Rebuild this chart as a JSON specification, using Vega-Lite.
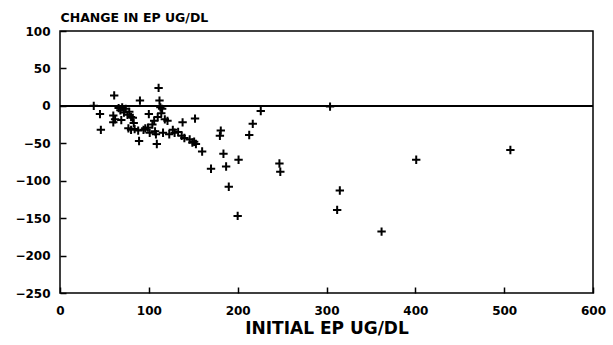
{
  "$schema": "https://vega.github.io/schema/vega-lite/v6.json",
  "width": 533,
  "height": 262,
  "autosize": {"type": "none"},
  "padding": {"left": 60, "top": 31, "right": 20, "bottom": 52},
  "background": "white",
  "config": {
    "view": {"stroke": "black", "strokeWidth": 1.5}
  },
  "data": {
    "values": [
      {"x": 38, "y": 0}, {"x": 45, "y": -11}, {"x": 46, "y": -32}, {"x": 61, "y": 14},
      {"x": 60, "y": -13}, {"x": 60, "y": -22}, {"x": 62, "y": -18}, {"x": 66, "y": -3},
      {"x": 68, "y": -6}, {"x": 70, "y": -2}, {"x": 72, "y": -9}, {"x": 74, "y": -4},
      {"x": 76, "y": -12}, {"x": 69, "y": -19}, {"x": 78, "y": -8}, {"x": 80, "y": -15},
      {"x": 82, "y": -16}, {"x": 83, "y": -23}, {"x": 77, "y": -30}, {"x": 80, "y": -32},
      {"x": 84, "y": -31}, {"x": 88, "y": -33}, {"x": 90, "y": 7}, {"x": 89, "y": -47},
      {"x": 94, "y": -32}, {"x": 96, "y": -30}, {"x": 99, "y": -29}, {"x": 101, "y": -36},
      {"x": 100, "y": -11}, {"x": 104, "y": -25}, {"x": 106, "y": -20}, {"x": 107, "y": -34},
      {"x": 108, "y": -38}, {"x": 110, "y": -15}, {"x": 109, "y": -51}, {"x": 111, "y": 24},
      {"x": 112, "y": 7}, {"x": 113, "y": -2}, {"x": 114, "y": -10}, {"x": 115, "y": -4},
      {"x": 116, "y": -36}, {"x": 118, "y": -18}, {"x": 121, "y": -20}, {"x": 123, "y": -38},
      {"x": 127, "y": -32}, {"x": 129, "y": -36}, {"x": 133, "y": -35}, {"x": 137, "y": -40},
      {"x": 138, "y": -22}, {"x": 140, "y": -43}, {"x": 146, "y": -45}, {"x": 149, "y": -49},
      {"x": 151, "y": -48}, {"x": 153, "y": -51}, {"x": 152, "y": -17}, {"x": 160, "y": -61},
      {"x": 170, "y": -84}, {"x": 180, "y": -40}, {"x": 181, "y": -33}, {"x": 184, "y": -64},
      {"x": 187, "y": -81}, {"x": 190, "y": -108}, {"x": 201, "y": -72}, {"x": 200, "y": -147},
      {"x": 213, "y": -39}, {"x": 217, "y": -24}, {"x": 226, "y": -7}, {"x": 247, "y": -77},
      {"x": 248, "y": -88}, {"x": 304, "y": -1}, {"x": 312, "y": -139}, {"x": 315, "y": -113},
      {"x": 362, "y": -168}, {"x": 401, "y": -72}, {"x": 507, "y": -59}
    ]
  },
  "encoding": {
    "x": {
      "field": "x",
      "type": "quantitative",
      "scale": {"domain": [0, 600], "nice": false},
      "axis": {
        "title": "INITIAL EP UG/DL",
        "titleFontSize": 17,
        "titleFont": "DejaVu Sans",
        "titleFontWeight": "bold",
        "titleColor": "black",
        "titlePadding": 4,
        "values": [0, 100, 200, 300, 400, 500, 600],
        "grid": false,
        "domain": false,
        "ticks": true,
        "tickSize": -6,
        "tickColor": "black",
        "tickWidth": 1.5,
        "labelPadding": 18,
        "labelFontSize": 12,
        "labelFont": "DejaVu Sans",
        "labelFontWeight": "bold",
        "labelColor": "black",
        "labelOverlap": false,
        "labelFlush": false
      }
    },
    "y": {
      "field": "y",
      "type": "quantitative",
      "scale": {"domain": [-250, 100], "nice": false},
      "axis": {
        "title": "CHANGE IN EP UG/DL",
        "titleAngle": 0,
        "titleAlign": "left",
        "titleBaseline": "alphabetic",
        "titleX": 0,
        "titleY": -10,
        "titleFontSize": 12.5,
        "titleFont": "DejaVu Sans",
        "titleFontWeight": "bold",
        "titleColor": "black",
        "values": [-250, -200, -150, -100, -50, 0, 50, 100],
        "grid": false,
        "domain": false,
        "ticks": true,
        "tickSize": -6,
        "tickColor": "black",
        "tickWidth": 1.5,
        "labelPadding": 16,
        "labelFontSize": 12,
        "labelFont": "DejaVu Sans",
        "labelFontWeight": "bold",
        "labelColor": "black",
        "labelOverlap": false,
        "labelFlush": false
      }
    }
  },
  "layer": [
    {
      "mark": {
        "type": "point",
        "shape": "M-1,0H1M0,-1V1",
        "filled": false,
        "color": "black",
        "strokeWidth": 2,
        "size": 70,
        "opacity": 1
      }
    },
    {
      "mark": {"type": "rule", "color": "black", "strokeWidth": 1.5},
      "encoding": {"x": null, "y": {"datum": 0, "type": "quantitative"}}
    }
  ]
}
